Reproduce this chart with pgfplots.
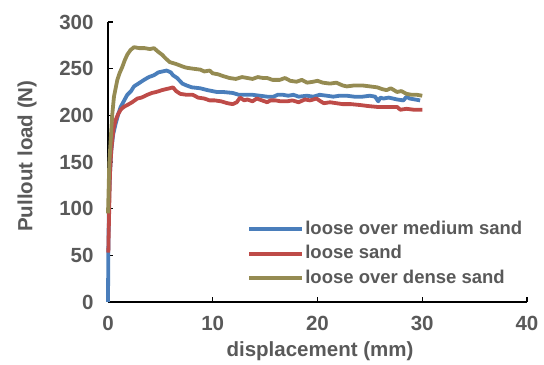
\documentclass[border=0pt]{standalone}
\usepackage{pgfplots}
\pgfplotsset{compat=1.18}
\usepackage{fontspec}
\setmainfont{Liberation Sans}
\definecolor{cblue}{HTML}{4A7EBB}
\definecolor{cred}{HTML}{BE4B48}
\definecolor{colive}{HTML}{958B52}
\definecolor{txt}{HTML}{595959}
\begin{document}
\begin{tikzpicture}
\begin{axis}[
  scale only axis, width=419bp, height=280bp,
  xmin=0, xmax=40, ymin=0, ymax=300,
  xtick={0,10,20,30,40}, ytick={0,50,100,150,200,250,300},
  axis x line=bottom, axis y line=left,
  axis line style={-, line width=1.3bp, black},
  tick style={line width=1.3bp, black},
  tick align=inside, major tick length=5bp,
  clip=false,
  /pgf/number format/assume math mode=true,
  tick label style={font=\bfseries\fontsize{20.5bp}{24bp}\selectfont, text=txt},
  xticklabel style={yshift=-11bp},
  yticklabel style={xshift=-11bp},
  label style={font=\bfseries\fontsize{20.5bp}{24bp}\selectfont, text=txt},
  xlabel={displacement (mm)},
  ylabel={Pullout load (N)},
  xlabel style={at={(axis description cs:0.506,-0.177)}, anchor=center},
  ylabel style={at={(axis description cs:-0.193,0.521)}, anchor=center},
  legend cell align=left,
  legend image code/.code={\draw[#1] (0bp,0bp) -- (53bp,0bp);},
  legend style={draw=none, fill=none, inner sep=0pt, row sep=5bp,
    font=\bfseries\fontsize{18.5bp}{22bp}\selectfont, text=txt,
    nodes={inner sep=1bp, text height=13.5bp, text depth=4bp},
    at={(axis cs:13.3,88.5)}, anchor=north west},
  every axis plot/.append style={line width=3.8bp, line join=round},
]
\addplot[cblue] coordinates {
(0,0)(0.03,53)(0.1,110)(0.2,140)(0.32,163)(0.5,180)(0.73,191)(1.0,202)(1.21,209)(1.5,215)(1.84,222)(2.2,226)(2.48,231)(2.9,234)(3.44,238)(3.9,241)(4.39,243)(4.8,246)(5.2,247)(5.6,248)(6.0,246)(6.2,243)(6.6,240)(7.1,234)(7.5,232)(8.0,230)(8.8,229)(9.5,227)(10.4,225)(11.0,225)(11.9,224)(12.5,222)(13.3,222)(13.8,222)(14.5,221)(15.2,220)(15.8,220)(16.2,222)(16.7,222)(17.2,221)(17.7,222)(18.2,220)(19.0,221)(19.6,220)(20.2,222)(20.9,221)(21.5,220)(22.1,221)(22.8,221)(23.5,220)(24.3,220)(25.0,221)(25.5,220)(25.8,215)(26.0,219)(26.3,218)(26.8,219)(27.2,218)(27.6,217)(28.2,216)(28.5,220)(28.8,218)(29.3,217)(29.8,216)
};
\addlegendentry{loose over medium sand}
\addplot[cred] coordinates {
(0.03,53)(0.08,81)(0.19,138)(0.3,160)(0.41,174)(0.55,187)(0.73,195)(0.95,201)(1.21,206)(1.5,209)(1.84,211)(2.3,214)(2.8,218)(3.2,219)(3.75,222)(4.2,224)(4.6,225)(5.16,227)(5.5,228)(5.9,229)(6.2,230)(6.5,226)(6.9,223)(7.5,222)(8.1,222)(8.6,219)(9.2,218)(9.7,216)(10.2,216)(10.8,215)(11.4,213)(11.9,212)(12.3,214)(12.6,219)(13.0,216)(13.3,217)(13.8,215)(14.2,218)(14.7,216)(15.2,214)(15.5,216)(16.0,216)(16.5,215)(17.1,215)(17.6,216)(18.2,214)(18.8,217)(19.3,216)(19.9,218)(20.3,215)(20.6,213)(21.2,214)(21.8,213)(22.4,212)(23.2,212)(24.1,211)(24.8,210)(25.7,209)(26.5,209)(27.2,209)(27.6,209)(27.9,206)(28.5,207)(29.2,206)(29.8,206)(30.0,206)
};
\addlegendentry{loose sand}
\addplot[colive] coordinates {
(0,95)(0.06,120)(0.12,148)(0.26,174)(0.4,200)(0.57,220)(0.89,238)(1.1,245)(1.37,252)(1.6,259)(1.84,265)(2.15,270)(2.48,273)(3.0,272)(3.5,272)(4.0,271)(4.39,272)(4.8,268)(5.16,265)(5.5,261)(5.9,257)(6.5,255)(7.2,252)(7.5,251)(8.1,250)(8.8,249)(9.2,247)(9.7,248)(10.0,245)(10.5,244)(11.0,242)(11.6,240)(12.2,239)(12.8,241)(13.3,240)(13.8,239)(14.3,241)(14.8,240)(15.2,240)(15.7,238)(16.4,238)(16.9,240)(17.4,237)(18.0,236)(18.5,238)(19.0,235)(19.6,236)(20.0,237)(20.5,235)(21.2,234)(21.8,235)(22.4,232)(22.8,231)(23.5,232)(24.3,232)(25.0,231)(25.7,230)(26.2,228)(26.6,227)(27.0,229)(27.6,225)(28.0,226)(28.5,223)(29.0,222)(29.5,222)(30.0,221)
};
\addlegendentry{loose over dense sand}
\end{axis}
\path (current axis.south west) ++(-108bp,-63bp) rectangle ++(544bp,365bp);
\end{tikzpicture}
\end{document}
